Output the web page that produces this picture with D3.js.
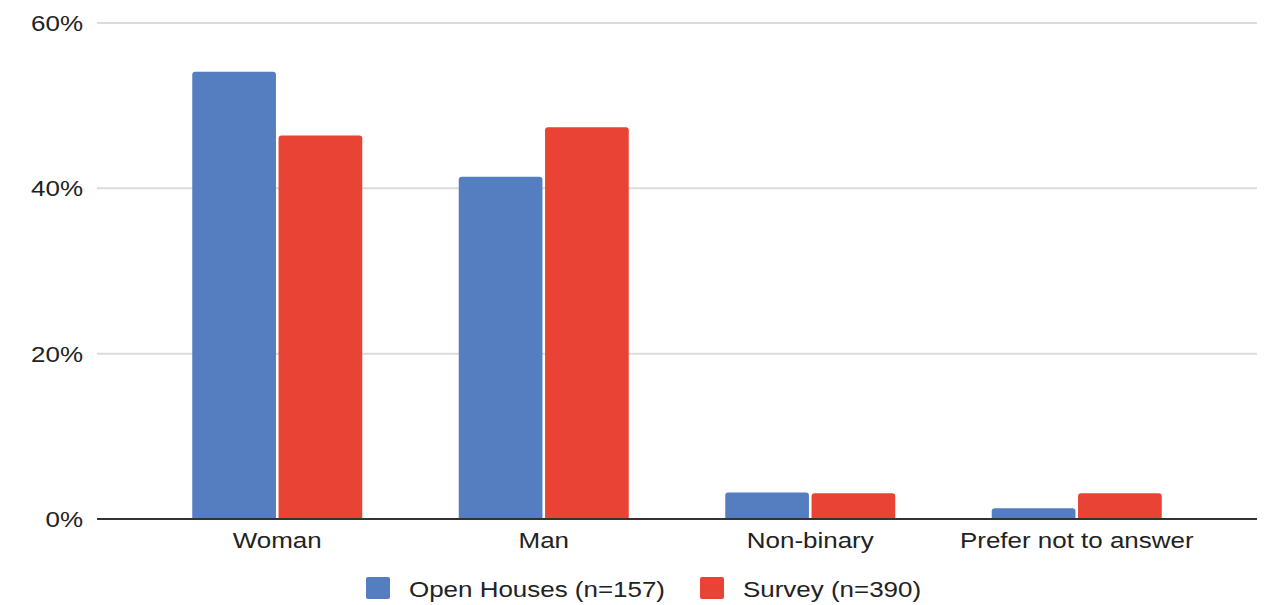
<!DOCTYPE html>
<html><head><meta charset="utf-8">
<script src="https://cdn.jsdelivr.net/npm/d3@7"></script>
<style>body{margin:0;background:#fff}svg{display:block}text{font-family:"Liberation Sans",Arial,sans-serif;fill:#222}</style>
</head><body>
<script>
const categories = ["Woman", "Man", "Non-binary", "Prefer not to answer"];
const seriesNames = ["Open Houses (n=157)", "Survey (n=390)"];
const openHouses = [54.1, 41.4, 3.2, 1.3];
const survey = [46.4, 47.4, 3.1, 3.1];
const yTicks = [0, 20, 40, 60];
const colors = ["#547ebf", "#e94335"];

const W = 1265, H = 605;
const SX = 1.18; // horizontal stretch of the reference's text
const svg = d3.select("body").append("svg").attr("width", W).attr("height", H);

const plotL = 97, plotR = 1257;
const y = d3.scaleLinear().domain([0, 60]).range([519, 23]);
const x0 = d3.scaleBand().domain(categories).range([144, 1210]).paddingInner(0).paddingOuter(0);
const groupW = 170;
const x1 = d3.scaleBand().domain(seriesNames).range([0, groupW]).paddingInner(0.03);

// gridlines
svg.append("g").selectAll("line").data(yTicks.filter(d => d > 0)).join("line")
  .attr("x1", plotL).attr("x2", plotR)
  .attr("y1", d => y(d)).attr("y2", d => y(d))
  .attr("stroke", "#dcdcdc").attr("stroke-width", 2);

// y labels
svg.append("g").selectAll("text").data(yTicks).join("text")
  .attr("transform", d => `translate(83,${y(d)}) scale(${SX},1)`)
  .attr("dy", "0.36em")
  .attr("text-anchor", "end").attr("font-size", 22)
  .text(d => d + "%");

const data = categories.map((c, i) => ({c, vals: [openHouses[i], survey[i]]}));
const g = svg.append("g").selectAll("g").data(data).join("g")
  .attr("transform", d => `translate(${x0(d.c) + (x0.bandwidth() - groupW) / 2},0)`);
g.selectAll("path").data(d => d.vals.map((v, j) => ({v, s: seriesNames[j], j}))).join("path")
  .attr("fill", d => colors[d.j])
  .attr("d", d => {
    const bx = x1(d.s), bw = x1.bandwidth(), top = y(d.v), bot = y(0), r = Math.min(3, (bot - top) / 2);
    return `M${bx},${bot}V${top + r}Q${bx},${top} ${bx + r},${top}H${bx + bw - r}Q${bx + bw},${top} ${bx + bw},${top + r}V${bot}Z`;
  });

// baseline
svg.append("line").attr("x1", plotL).attr("x2", plotR).attr("y1", y(0)).attr("y2", y(0))
  .attr("stroke", "#333").attr("stroke-width", 2);

// x labels
svg.append("g").selectAll("text").data(categories).join("text")
  .attr("transform", d => `translate(${x0(d) + x0.bandwidth() / 2},548) scale(${SX},1)`)
  .attr("text-anchor", "middle").attr("font-size", 22)
  .text(d => d);

// legend
const legX = [366, 700];
const lg = svg.append("g").selectAll("g").data(seriesNames).join("g")
  .attr("transform", (d, i) => `translate(${legX[i]},0)`);
lg.append("rect").attr("x", 0).attr("y", 577).attr("width", 24).attr("height", 22).attr("rx", 2)
  .attr("fill", (d, i) => colors[i]);
lg.append("text").attr("transform", `translate(43,597) scale(${SX},1)`).attr("font-size", 22).text(d => d);
</script>
</body></html>
